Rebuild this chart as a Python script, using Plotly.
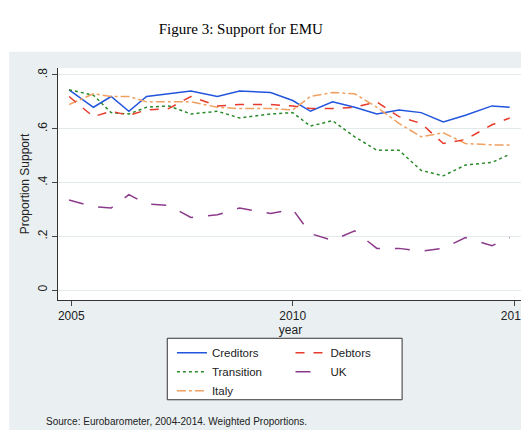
import plotly.graph_objects as go

years = [2004.95, 2005.5, 2005.9, 2006.3, 2006.7, 2007.2, 2007.7, 2008.3, 2008.8, 2009.5, 2010.0,
         2010.4, 2010.9, 2011.4, 2011.9, 2012.4, 2012.9, 2013.4, 2013.9, 2014.5, 2014.9]
creditors = [.745, .68, .72, .665, .72, .73, .74, .72, .74, .735, .705, .665, .70, .68, .655, .67, .66, .625, .65, .685, .68]
debtors = [.72, .645, .665, .65, .67, .675, .72, .685, .69, .69, .685, .675, .675, .68, .70, .645, .62, .545, .56, .615, .64]
transition = [.745, .725, .66, .655, .68, .685, .655, .665, .64, .655, .66, .61, .63, .57, .52, .52, .445, .425, .465, .475, .505]
uk = [.335, .31, .305, .355, .32, .315, .27, .28, .305, .285, .30, .21, .185, .22, .155, .155, .145, .155, .195, .165, .195]
italy = [.69, .73, .72, .72, .70, .70, .70, .68, .675, .675, .67, .72, .735, .73, .68, .62, .57, .585, .545, .54, .54]

fig = go.Figure()
def add(name, ys, color, dash, legend):
    fig.add_trace(go.Scatter(x=years, y=ys, mode="lines", name=name, legend=legend,
                             line=dict(color=color, dash=dash, width=1.5)))
add("Creditors", creditors, "#2255dd", "solid", "legend")
add("Transition", transition, "#2a8a2a", "dot", "legend")
add("Italy", italy, "#f0a060", "dashdot", "legend")
add("Debtors", debtors, "#e83a2a", "dash", "legend2")
add("UK", uk, "#8b3a8b", "longdash", "legend2")

fig.add_shape(type="rect", xref="paper", yref="paper", x0=-0.105, x1=1.03, y0=-0.56, y1=1.07,
              fillcolor="#eaf0f2", line=dict(width=0), layer="below")
fig.add_shape(type="rect", xref="paper", yref="paper", x0=0.0, x1=1.0, y0=0.0, y1=1.0,
              fillcolor="white", line=dict(width=0), layer="below")
fig.add_shape(type="rect", xref="paper", yref="paper", x0=0.235, x1=0.74, y0=-0.43, y1=-0.165,
              fillcolor="white", line=dict(color="#333", width=1), layer="below")

leg = dict(bgcolor="rgba(0,0,0,0)", font=dict(size=11.5, family="Liberation Sans"),
           tracegroupgap=0, yanchor="top", xanchor="left", itemwidth=30)
fig.update_layout(
    width=529, height=432, paper_bgcolor="white", plot_bgcolor="white",
    margin=dict(l=50, r=14, t=60, b=140, autoexpand=False),
    font=dict(family="Liberation Sans", color="#222"),
    title=dict(text="Figure 3: Support for EMU", x=0.285, y=0.965, xanchor="left",
               font=dict(family="Liberation Serif", size=15, color="#000")),
    legend=dict(**leg, x=0.245, y=-0.165),
    legend2=dict(**leg, x=0.5, y=-0.165),
    xaxis=dict(range=[2004.7, 2015.2], tickvals=[2005, 2010, 2015], ticks="outside", automargin=False,
               showline=True, linecolor="#333", showgrid=False, zeroline=False,
               title=dict(text="year", standoff=0, font=dict(size=12)), tickfont=dict(size=12)),
    yaxis=dict(range=[-0.037, 0.826], tickvals=[0, .2, .4, .6, .8], ticktext=["0", ".2", ".4", ".6", ".8"],
               ticks="outside", tickangle=-90, showline=True, linecolor="#333", automargin=False,
               gridcolor="#e3eaec", zeroline=False,
               title=dict(text="Proportion Support", standoff=4, font=dict(size=12)), tickfont=dict(size=12)),
)
fig.add_annotation(text="Source: Eurobarometer, 2004-2014. Weighted Proportions.", xref="paper", yref="paper",
                   x=-0.03, y=-0.49, xanchor="left", yanchor="top", showarrow=False, font=dict(size=10, color="#222"))
fig.write_html("out.html")
